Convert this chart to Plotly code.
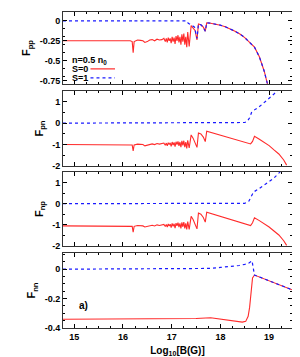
import plotly.graph_objects as go

# ---------------- data ----------------
# S=0 (red) B grid used for Fpp, Fpn, Fnp
B0 = [14.77, 15.5, 16.0, 16.15, 16.19, 16.21, 16.23, 16.3, 16.36, 16.41, 16.45, 16.5,
      16.55, 16.6, 16.65, 16.7, 16.75, 16.8, 16.84, 16.87, 16.89, 16.91, 16.93, 16.95,
      16.97, 16.99, 17.01, 17.03, 17.05, 17.07, 17.09, 17.11, 17.13, 17.15, 17.17,
      17.19, 17.21, 17.23, 17.25, 17.27, 17.29, 17.31, 17.33, 17.36,
      17.40, 17.44, 17.48, 17.52, 17.55, 17.60, 17.65, 17.69, 17.72]
Fpp_S0 = [-0.25, -0.25, -0.25, -0.25, -0.26, -0.40, -0.26, -0.24, -0.245, -0.25, -0.27,
          -0.26, -0.24, -0.235, -0.25, -0.23, -0.24, -0.235, -0.22, -0.26, -0.22, -0.27,
          -0.21, -0.25, -0.22, -0.28, -0.2, -0.26, -0.21, -0.29, -0.19, -0.25, -0.18,
          -0.27, -0.2, -0.3, -0.17, -0.26, -0.16, -0.3, -0.2, -0.33, -0.14, -0.32,
          -0.06, -0.09, -0.12, -0.24, -0.04, -0.05, -0.08, -0.13, -0.025]
Fpn_S0 = [-1.0, -1.0, -1.0, -1.0, -1.02, -1.3, -1.02, -0.98, -0.99, -1.0, -1.06,
          -1.03, -0.98, -0.97, -1.0, -0.95, -0.98, -0.97, -0.93, -1.03, -0.93, -1.06,
          -0.91, -1.0, -0.92, -1.08, -0.88, -1.02, -0.9, -1.1, -0.87, -1.0, -0.85,
          -1.06, -0.88, -1.12, -0.83, -1.04, -0.82, -1.12, -0.88, -1.18, -0.8, -1.16,
          -0.55, -0.7, -0.9, -1.13, -0.46, -0.5, -0.65, -0.86, -0.38]
Fnp_S0 = [-1.05, -1.05, -1.05, -1.05, -1.07, -1.35, -1.07, -1.03, -1.04, -1.05, -1.1,
          -1.08, -1.03, -1.02, -1.05, -1.0, -1.03, -1.02, -0.98, -1.08, -0.98, -1.11,
          -0.96, -1.05, -0.97, -1.13, -0.93, -1.07, -0.95, -1.15, -0.92, -1.05, -0.9,
          -1.11, -0.93, -1.17, -0.88, -1.09, -0.87, -1.17, -0.93, -1.22, -0.85, -1.21,
          -0.6, -0.75, -0.95, -1.19, -0.44, -0.5, -0.65, -0.87, -0.4]
# smooth tails after the last jump
B0_pp_tail = [17.8, 17.9, 18.0, 18.1, 18.2, 18.3, 18.4, 18.5, 18.6, 18.7, 18.8, 18.9,
              18.95, 18.98]
Fpp_tail = [-0.03, -0.04, -0.055, -0.075, -0.10, -0.13, -0.165, -0.21, -0.27, -0.33,
            -0.45, -0.63, -0.75, -0.82]
B0_pn_tail = [18.0, 18.3, 18.62, 18.66, 18.70, 18.8, 18.9, 19.0, 19.1, 19.2, 19.3, 19.36]
Fpn_tail = [-0.56, -0.76, -0.97, -0.85, -0.61, -0.75, -0.88, -1.05, -1.25, -1.44, -1.72, -1.96]
Fnp_tail = [-0.6, -0.8, -1.03, -0.9, -0.67, -0.8, -0.93, -1.1, -1.29, -1.48, -1.75, -1.97]

B1_pp = [14.77, 16.19, 16.21, 16.23, 17.30, 17.34, 17.40, 17.47, 17.52, 17.55, 17.60, 17.65,
         17.69, 17.72]
Fpp_S1 = [0.0, 0.0, -0.01, 0.0, 0.0, -0.03, -0.05, -0.08, -0.22, -0.04, -0.05, -0.08,
          -0.13, -0.025]

B1_pn = [14.77, 18.45, 18.5, 18.55, 18.6, 18.64, 18.7, 18.79, 18.9, 18.99, 19.1, 19.2, 19.3]
Fpn_S1 = [0.0, 0.0, 0.03, 0.08, 0.25, 0.5, 0.62, 0.75, 0.95, 1.14, 1.36, 1.56, 1.8]
B1_np = [14.77, 18.45, 18.5, 18.58, 18.64, 18.68, 18.79, 18.95, 19.09, 19.2, 19.3]
Fnp_S1 = [0.0, 0.0, 0.02, 0.1, 0.35, 0.55, 0.71, 0.95, 1.19, 1.45, 1.7]

B0_nn = [14.77, 16.0, 17.0, 17.5, 17.8, 18.0, 18.3, 18.45, 18.52, 18.57, 18.6, 18.63, 18.66,
         18.70, 19.47]
Fnn_S0 = [-0.34, -0.34, -0.34, -0.335, -0.33, -0.34, -0.35, -0.36, -0.355, -0.32, -0.26,
          -0.15, -0.06, -0.04, -0.14]
B1_nn = [14.77, 17.4, 17.8, 18.0, 18.2, 18.39, 18.5, 18.58, 18.65, 18.68, 18.70, 19.47]
Fnn_S1 = [0.0, 0.0, 0.005, 0.012, 0.018, 0.025, 0.033, 0.04, 0.056, -0.02, -0.04, -0.14]

x_ticks = [15, 16, 17, 18, 19]
y_ticks = [[0, -0.25, -0.5, -0.75], [1, 0, -1, -2], [1, 0, -1, -2], [0, -0.2, -0.4]]
y_ticktext = [["0", "-0.25", "-0.5", "-0.75"], ["1", "0", "-1", "-2"],
              ["1", "0", "-1", "-2"], ["0", "-0.2", "-0.4"]]
y_ranges = [[-0.79, 0.11], [-2, 1.5], [-2, 1.5], [-0.4, 0.11]]
y_titles = ["F<sub>pp</sub>", "F<sub>pn</sub>", "F<sub>np</sub>", "F<sub>nn</sub>"]

RED = "#ff2a2a"
BLUE = "#1a1aff"
FAM = "Liberation Sans, Arial, sans-serif"

# ---------------- figure ----------------
fig = go.Figure()
series = [
    (B0 + B0_pp_tail, Fpp_S0 + Fpp_tail, B1_pp + B0_pp_tail, Fpp_S1 + Fpp_tail),
    (B0 + B0_pn_tail, Fpn_S0 + Fpn_tail, B1_pn, Fpn_S1),
    (B0 + B0_pn_tail, Fnp_S0 + Fnp_tail, B1_np, Fnp_S1),
    (B0_nn, Fnn_S0, B1_nn, Fnn_S1),
]
for i, (xr, yr, xb, yb) in enumerate(series):
    ax = "" if i == 0 else str(i + 1)
    fig.add_trace(go.Scatter(x=xr, y=yr, mode="lines", line=dict(color=RED, width=1.1),
                             xaxis="x" + ax, yaxis="y" + ax, showlegend=False))
    fig.add_trace(go.Scatter(x=xb, y=yb, mode="lines",
                             line=dict(color=BLUE, width=1.2, dash="3px,3px"),
                             xaxis="x" + ax, yaxis="y" + ax, showlegend=False))

L, R, T, Bm = 55, 16, 4, 37
H = 357.0 - T - Bm
# panel edges in pixels from top
edges = [(4, 76), (83, 158), (164, 238), (245, 320)]
domains = [[(T + H - b) / H, (T + H - t) / H] for t, b in edges]
domains = [[max(0.0, d0), min(1.0, d1)] for d0, d1 in domains]
tfont = dict(family=FAM, size=9, color="black")

layout = dict(
    width=300, height=357, autosize=False,
    margin=dict(l=L, r=R, t=T, b=Bm, autoexpand=False),
    plot_bgcolor="white", paper_bgcolor="white",
    font=dict(family=FAM, size=9, color="black"), showlegend=False,
)
for i in range(4):
    ax = "" if i == 0 else str(i + 1)
    layout["xaxis" + ax] = dict(
        range=[14.77, 19.47], domain=[0, 1], anchor="y" + ax,
        tickvals=x_ticks, ticktext=["<b>%d</b>" % t for t in x_ticks],
        showticklabels=(i == 3), ticks="inside", ticklen=4, tickcolor="black",
        minor=dict(ticks="inside", ticklen=2, dtick=0.25, tickcolor="black"),
        showline=True, linecolor="#333", linewidth=1, mirror="ticks",
        showgrid=False, zeroline=False, tickfont=tfont, automargin=False,
    )
    layout["yaxis" + ax] = dict(
        range=y_ranges[i], domain=domains[i], anchor="x" + ax,
        tickvals=y_ticks[i], ticktext=["<b>%s</b>" % s for s in y_ticktext[i]],
        ticks="inside", ticklen=4, tickcolor="black",
        minor=dict(ticks="inside", ticklen=2, tickcolor="black", nticks=3),
        showline=True, linecolor="#333", linewidth=1, mirror="ticks",
        showgrid=False, zeroline=False, tickfont=tfont, automargin=False,
        title=dict(text="<b>%s</b>" % y_titles[i], font=dict(family=FAM, size=11, color="black"),
                   standoff=6),
    )
layout["xaxis4"]["title"] = dict(text="<b>Log<sub>10</sub>[B(G)]</b>",
                                 font=dict(family=FAM, size=10, color="black"), standoff=6)
fig.update_layout(**layout)

# gnuplot-style key in the top panel (text left, sample line right)
fig.add_annotation(text="<b>n=0.5 n<sub>0</sub></b>", xref="x domain", yref="y domain",
                   x=0.03, y=0.32, xanchor="left", yanchor="middle", showarrow=False,
                   font=dict(family=FAM, size=9, color="black"))
for lab, col, dash, yy in [("S=0", RED, "solid", 0.21), ("S=1", BLUE, "3px,3px", 0.085)]:
    fig.add_annotation(text="<b>%s</b>" % lab, xref="x domain", yref="y domain", x=0.03, y=yy,
                       xanchor="left", yanchor="middle", showarrow=False,
                       font=dict(family=FAM, size=9, color="black"))
    fig.add_shape(type="line", xref="x domain", yref="y domain", x0=0.12, x1=0.227,
                  y0=yy, y1=yy, line=dict(color=col, width=1.2, dash=dash))

fig.add_annotation(text="<b>a)</b>", xref="x4", yref="y4", x=15.05, y=-0.25, xanchor="left",
                   yanchor="middle", showarrow=False, font=dict(family=FAM, size=10, color="black"))

fig.write_html("out.html")
